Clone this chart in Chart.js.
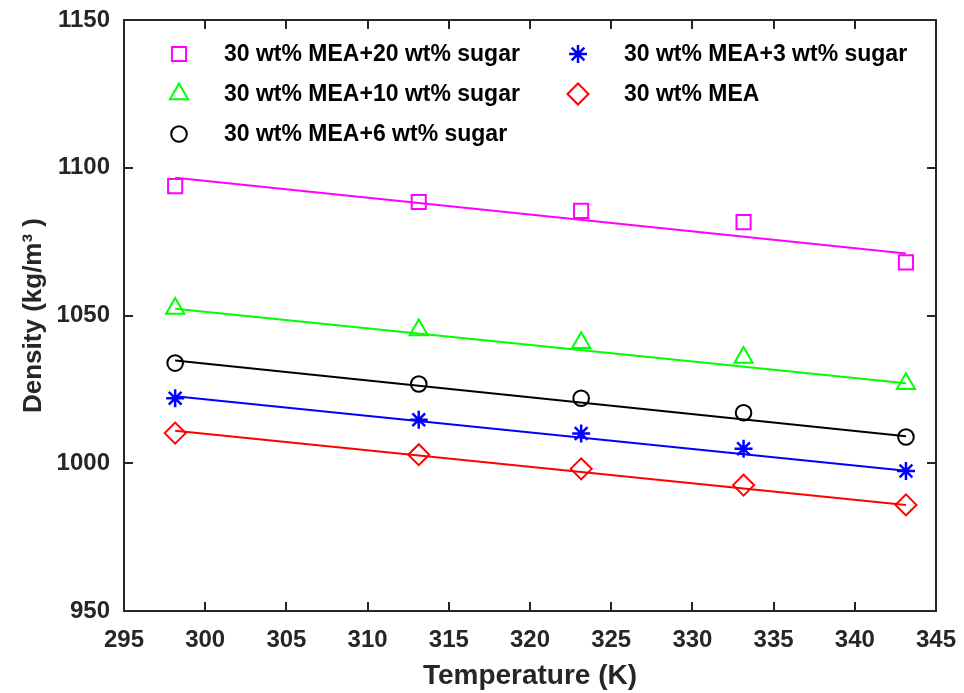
<!DOCTYPE html>
<html>
<head>
<meta charset="utf-8">
<title>Density vs temperature</title>
<script src="https://cdn.jsdelivr.net/npm/chart.js@4.4.1/dist/chart.umd.min.js"></script>
<style>
  html, body { margin: 0; padding: 0; background: #fff; }
  #wrap { width: 964px; height: 693px; position: relative; }
</style>
</head>
<body>
<div id="wrap"><canvas id="densChart"></canvas></div>
<script>
// ── Measured densities (kg/m3) at each temperature (K) ───────
const temps = [298.15, 313.15, 323.15, 333.15, 343.15];
const fitTemps = [298.15, 343.15];

const sugar20 = [1093.8, 1088.4, 1085.4, 1081.6, 1068.0];
const sugar10 = [1052.4, 1045.1, 1040.8, 1035.8, 1026.9];
const sugar6  = [1033.9, 1026.8, 1022.0, 1017.1, 1008.9];
const sugar3  = [1022.0, 1014.7, 1010.1, 1004.9, 997.4];
const meaOnly = [1010.2, 1002.9, 998.1, 992.6, 985.9];

// linear fit end points
const sugar20Fit = [1096.6, 1071.0];
const sugar10Fit = [1052.3, 1027.1];
const sugar6Fit  = [1034.8, 1009.1];
const sugar3Fit  = [1022.7, 997.5];
const meaFit     = [1011.0, 985.9];

const seriesLabels = [
  '30 wt% MEA+20 wt% sugar',
  '30 wt% MEA+10 wt% sugar',
  '30 wt% MEA+6 wt% sugar',
  '30 wt% MEA+3 wt% sugar',
  '30 wt% MEA',
];

const xMin = 295, xMax = 345, xStep = 5;
const yMin = 950, yMax = 1150, yStep = 50;

// ── Series styles ────────────────────────────────────────────
const series = [
  { vals: sugar20, fit: sugar20Fit, color: '#ff00ff', style: 'rect',     r: 10 },
  { vals: sugar10, fit: sugar10Fit, color: '#00ff00', style: 'triangle', r: 10.5 },
  { vals: sugar6,  fit: sugar6Fit,  color: '#000000', style: 'circle',   r: 7.8 },
  { vals: sugar3,  fit: sugar3Fit,  color: '#0000ff', style: 'star',     r: 9 },
  { vals: meaOnly, fit: meaFit,     color: '#ff0000', style: 'rectRot',  r: 10.5 },
];

const toPts = (xs, ys) => xs.map((x, i) => ({ x, y: ys[i] }));

const datasets = [];
series.forEach((s, i) => {
  datasets.push({
    label: seriesLabels[i] + ' fit',
    data: toPts(fitTemps, s.fit),
    showLine: true,
    borderColor: s.color,
    borderWidth: 2,
    pointRadius: 0,
    fill: false,
  });
});
series.forEach((s, i) => {
  datasets.push({
    label: seriesLabels[i],
    data: toPts(temps, s.vals),
    showLine: false,
    pointStyle: s.style,
    pointRadius: s.r,
    pointBorderWidth: s.style === 'star' ? 2.5 : 2,
    pointBorderColor: s.color,
    pointBackgroundColor: 'rgba(0,0,0,0)',
    legendSlot: i,
  });
});

const AXIS_COLOR = '#262626';
const FONT = '"Liberation Sans", Arial, sans-serif';

// ── Box with inward ticks on all four sides ──────────────────
const boxFrame = {
  id: 'boxFrame',
  afterDraw(chart) {
    const { ctx, chartArea: a, scales } = chart;
    const len = 9;
    ctx.save();
    ctx.strokeStyle = AXIS_COLOR;
    ctx.lineWidth = 2;
    ctx.beginPath();
    scales.x.ticks.forEach(t => {
      const px = Math.round(scales.x.getPixelForValue(t.value));
      ctx.moveTo(px, a.bottom); ctx.lineTo(px, a.bottom - len);
      ctx.moveTo(px, a.top);    ctx.lineTo(px, a.top + len);
    });
    scales.y.ticks.forEach(t => {
      const py = Math.round(scales.y.getPixelForValue(t.value));
      ctx.moveTo(a.left, py);  ctx.lineTo(a.left + len, py);
      ctx.moveTo(a.right, py); ctx.lineTo(a.right - len, py);
    });
    ctx.stroke();
    ctx.strokeRect(a.left, a.top, a.right - a.left, a.bottom - a.top);
    ctx.restore();
  },
};

// ── Two-column legend inside the plot ────────────────────────
const boxLegend = {
  id: 'boxLegend',
  afterDatasetsDraw(chart) {
    const { ctx } = chart;
    const cols = [{ mx: 179, tx: 224 }, { mx: 578, tx: 624 }];
    const rows = [54, 94, 134];
    ctx.save();
    ctx.font = `bold 23px ${FONT}`;
    ctx.textBaseline = 'middle';
    chart.data.datasets.forEach(ds => {
      if (ds.legendSlot === undefined) return;
      const col = cols[ds.legendSlot < 3 ? 0 : 1];
      const y = rows[ds.legendSlot % 3];
      ctx.strokeStyle = ds.pointBorderColor;
      ctx.fillStyle = 'rgba(0,0,0,0)';
      ctx.lineWidth = ds.pointBorderWidth;
      Chart.helpers.drawPoint(ctx, {
        pointStyle: ds.pointStyle, radius: ds.pointRadius, rotation: 0, borderWidth: 2,
      }, col.mx, y);
      ctx.fillStyle = '#000';
      ctx.fillText(ds.label, col.tx, y + 1);
    });
    ctx.restore();
  },
};

new Chart(document.getElementById('densChart'), {
  type: 'scatter',
  data: { datasets },
  plugins: [boxFrame, boxLegend],
  options: {
    responsive: true,
    maintainAspectRatio: false,
    animation: false,
    layout: { padding: { top: 20, right: 28, left: 0, bottom: 0 } },
    plugins: { legend: { display: false }, tooltip: { enabled: false } },
    scales: {
      x: {
        type: 'linear',
        min: xMin, max: xMax,
        grid: { display: false, drawTicks: false },
        border: { display: false },
        ticks: {
          stepSize: xStep,
          padding: 15,
          color: AXIS_COLOR,
          font: { family: FONT, size: 24, weight: 'bold' },
          maxRotation: 0,
          callback: v => String(v),
        },
        title: {
          display: true,
          text: 'Temperature (K)',
          color: AXIS_COLOR,
          font: { family: FONT, size: 28, weight: 'bold', lineHeight: 1 },
          padding: { top: 3, bottom: 3 },
        },
        afterFit(scale) {
          scale.height = 82;
          scale.paddingLeft = 0;
          scale.paddingRight = 0;
        },
      },
      y: {
        type: 'linear',
        min: yMin, max: yMax,
        grid: { display: false, drawTicks: false },
        border: { display: false },
        ticks: {
          stepSize: yStep,
          padding: 14,
          color: AXIS_COLOR,
          font: { family: FONT, size: 24, weight: 'bold' },
          callback: v => String(v),
        },
        title: {
          display: true,
          text: 'Density (kg/m³ )',
          color: AXIS_COLOR,
          font: { family: FONT, size: 26, weight: 'bold', lineHeight: 1 },
          padding: { top: 21, bottom: 21 },
        },
        afterFit(scale) {
          scale.width = 124;
          scale.paddingTop = 0;
          scale.paddingBottom = 0;
        },
      },
    },
  },
});
</script>
</body>
</html>
